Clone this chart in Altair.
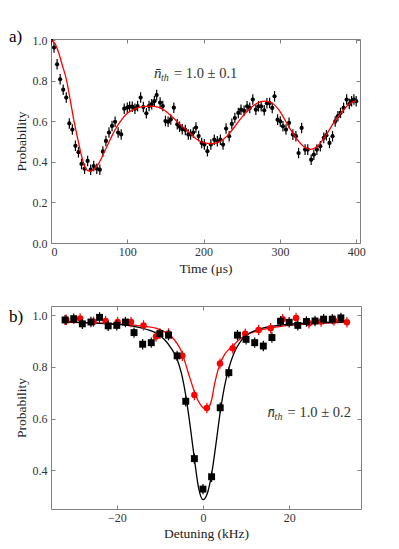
import altair as alt
import pandas as pd

FONT = "Liberation Serif"
FRAME = "#808080"
TXT = "#333333"

# ---------------- panel a : probability vs time ----------------
t_a = [0, 4, 8, 12, 16, 20, 24, 28, 32, 36, 40, 44, 48, 52, 56, 60, 64, 68, 72, 76,
       80, 84, 88, 92, 96, 100, 103, 106.5, 110, 113.5, 117.5, 121, 125, 128.5, 132, 135.5, 138.5, 143, 146.5, 150,
       153.5, 157, 161, 165.5, 168.5, 172, 176, 180, 183, 186.5, 190, 193.5, 197.5, 201, 205, 209.5, 214, 218, 222, 225.5,
       229.5, 233.5, 237, 241, 245.5, 249, 253, 257, 260.5, 264.5, 268.5, 272, 275.5, 279.5, 283, 286.5, 290, 293, 297, 300.5,
       304, 308, 312, 317, 321, 324.5, 328.5, 333, 336.5, 341, 344.5, 348.5, 353, 357.5, 361, 365, 369, 372.5, 376, 379.5,
       383.5, 387.5, 391, 394, 397, 400]
p_a = [1.0, 0.965, 0.882, 0.808, 0.757, 0.718, 0.59, 0.56, 0.48, 0.448, 0.39, 0.367, 0.405, 0.362, 0.38, 0.367, 0.362, 0.452, 0.504, 0.545,
       0.578, 0.598, 0.545, 0.536, 0.663, 0.668, 0.673, 0.673, 0.663, 0.676, 0.718, 0.671, 0.64, 0.676, 0.685, 0.70, 0.73, 0.693, 0.676, 0.602,
       0.598, 0.61, 0.668, 0.586, 0.574, 0.561, 0.558, 0.536, 0.536, 0.545, 0.57, 0.528, 0.494, 0.486, 0.453, 0.486, 0.51, 0.502, 0.51, 0.486,
       0.565, 0.527, 0.588, 0.617, 0.642, 0.658, 0.653, 0.675, 0.667, 0.708, 0.658, 0.675, 0.675, 0.655, 0.69, 0.691, 0.667, 0.724, 0.609, 0.60,
       0.576, 0.56, 0.593, 0.535, 0.527, 0.444, 0.568, 0.461, 0.461, 0.411, 0.436, 0.461, 0.478, 0.519, 0.532, 0.494, 0.527, 0.60, 0.626, 0.642,
       0.667, 0.708, 0.686, 0.70, 0.708, 0.70]
err_a = 0.026

fit_t = [0, 5, 10, 15, 20, 25, 30, 35, 40, 45, 50, 55, 60, 65, 70, 75, 80, 85, 90, 95, 100, 110, 120, 130, 140,
         150, 160, 170, 180, 190, 200, 210, 220, 230, 240, 250, 260, 270, 280, 290, 300, 310, 320, 330, 340,
         350, 360, 370, 380, 390, 400]
fit_p = [1.0, 0.985, 0.94, 0.875, 0.81, 0.71, 0.605, 0.515, 0.43, 0.37, 0.355, 0.36, 0.378, 0.41, 0.45, 0.49, 0.53, 0.565, 0.595, 0.62,
         0.64, 0.662, 0.673, 0.676, 0.671, 0.652, 0.618, 0.583, 0.55, 0.515, 0.495, 0.49, 0.498, 0.525, 0.57, 0.62, 0.66, 0.69, 0.70, 0.69,
         0.65, 0.585, 0.525, 0.48, 0.462, 0.48, 0.53, 0.59, 0.642, 0.683, 0.703]

# ---------------- panel b : probability vs detuning ----------------
det_black = [-32, -30, -28, -26, -24, -22, -20, -18, -16, -14, -12, -10, -8, -6, -4, -2, 0, 2, 4, 6,
             8, 10, 12, 14, 16, 18, 20, 22, 24, 26, 28, 30, 32]
p_black = [0.982, 0.987, 0.967, 0.974, 0.992, 0.959, 0.961, 0.974, 0.933, 0.888, 0.894, 0.929, 0.923, 0.843, 0.667, 0.445, 0.327, 0.375, 0.642, 0.778,
           0.923, 0.907, 0.894, 0.881, 0.914, 0.977, 0.973, 0.961, 0.976, 0.978, 0.985, 0.985, 0.99]
det_red = [-31.7, -28.5, -25.4, -22.6, -19.8, -16.7, -13.8, -10.9, -8.0, -4.8, -2.0, 0.9, 3.95, 6.9, 9.8, 12.9, 15.7,
           18.5, 21.6, 24.6, 27.4, 30.4, 33.4]
p_red = [0.982, 0.988, 0.975, 0.978, 0.974, 0.974, 0.961, 0.918, 0.93, 0.843, 0.691, 0.641, 0.813, 0.872, 0.929, 0.943, 0.95,
         0.985, 0.99, 0.969, 0.976, 0.98, 0.973]
err_b = 0.02

fit_black_x = [-32, -28, -24, -20, -16, -13, -11, -9, -7.5, -6, -5, -4, -3, -2, -1, 0, 1, 2, 3, 4, 5, 6, 7, 8, 9, 10,
               12, 14, 17, 20, 25, 30, 33.4]
fit_black_y = [0.975, 0.972, 0.969, 0.965, 0.957, 0.945, 0.932, 0.907, 0.875, 0.83, 0.775, 0.69, 0.575, 0.445, 0.33, 0.286, 0.31,
               0.385, 0.5, 0.625, 0.725, 0.795, 0.845, 0.88, 0.905, 0.922, 0.94, 0.951, 0.96, 0.966, 0.97, 0.973, 0.975]
fit_red_x = [-31.7, -28, -24, -20, -16, -13, -11, -9, -8, -7, -6, -5, -4, -3, -2, -1, 0, 0.7, 1.5, 2, 2.6, 3, 4, 5, 6, 7, 8,
             10, 13, 16, 20, 25, 30, 33.4]
fit_red_y = [0.973, 0.972, 0.97, 0.967, 0.962, 0.956, 0.95, 0.937, 0.928, 0.912, 0.89, 0.86, 0.81, 0.755, 0.705, 0.665, 0.642, 0.636,
             0.648, 0.672, 0.726, 0.757, 0.813, 0.848, 0.868, 0.882, 0.9, 0.923, 0.941, 0.952, 0.961, 0.967, 0.971, 0.973]


def ax_main(orient, values, title, fmt, lpad, tpad):
    return alt.Axis(orient=orient, values=values, title=title, format=fmt, tickSize=4, offset=-4,
                    domain=False, grid=False, labelPadding=lpad, titlePadding=tpad)


def ax_mirror(orient, values):
    return alt.Axis(orient=orient, values=values, labels=False, title=None, tickSize=4, offset=-4,
                    domain=False, grid=False)


def nbar_label(x, y, value_text):
    df = pd.DataFrame({"x": [x], "y": [y]})
    base = alt.Chart(df)
    n = base.mark_text(text="n\u0304", font=FONT, fontSize=15, fontStyle="italic", align="left",
                       baseline="alphabetic", dx=0, color=TXT)
    th = base.mark_text(text="th", font=FONT, fontSize=10, fontStyle="italic", align="left",
                        baseline="alphabetic", dx=7, dy=3, color=TXT)
    eq = base.mark_text(text=value_text, font=FONT, fontSize=14.5, align="left",
                        baseline="alphabetic", dx=20, color=TXT)
    return [m.encode(x=alt.X("x:Q", axis=None), y=alt.Y("y:Q", axis=None)) for m in (n, th, eq)]


def panel_tag(tag, yoff):
    return alt.Chart(pd.DataFrame({"tag": [tag]})).mark_text(
        font=FONT, fontSize=17, align="left", baseline="alphabetic", color="#000000"
    ).encode(text="tag:N", x=alt.value(-42), y=alt.value(yoff))


# ---- panel a ----
dfa = pd.DataFrame({"t": t_a, "p": p_a})
dfa["lo"] = dfa["p"] - err_a
dfa["hi"] = dfa["p"] + err_a
dfa_fit = pd.DataFrame({"t": fit_t, "p": fit_p})

xa = alt.Scale(domain=[0, 405], nice=False, zero=False)
ya = alt.Scale(domain=[0, 1.007], nice=False, zero=False)

a_err = alt.Chart(dfa).mark_rule(color="black", strokeWidth=1.2, clip=True).encode(
    x=alt.X("t:Q", scale=xa, axis=ax_main("bottom", [0, 100, 200, 300, 400], "Time (\u03bcs)", "d", 3, 4)),
    y=alt.Y("lo:Q", scale=ya, axis=ax_main("left", [0, 0.2, 0.4, 0.6, 0.8, 1.0], "Probability", ".1f", 4, 4)),
    y2="hi:Q",
)
a_pts = alt.Chart(dfa).mark_circle(color="black", size=18, opacity=1, clip=True).encode(
    x=alt.X("t:Q", scale=xa, axis=ax_mirror("top", [0, 100, 200, 300, 400])),
    y=alt.Y("p:Q", scale=ya, axis=ax_mirror("right", [0, 0.2, 0.4, 0.6, 0.8, 1.0])),
)
a_fit = alt.Chart(dfa_fit).mark_line(color="#ff0000", strokeWidth=1.3, interpolate="monotone", clip=True).encode(
    x=alt.X("t:Q", scale=xa, axis=None),
    y=alt.Y("p:Q", scale=ya, axis=None),
)
panel_a = alt.layer(a_err, a_pts, a_fit, *nbar_label(135, 0.815, "= 1.0 \u00b1 0.1"), panel_tag("a)", 3)).resolve_axis(
    x="independent", y="independent"
).properties(width=309, height=204)

# ---- panel b ----
dfk = pd.DataFrame({"d": det_black, "p": p_black})
dfk["lo"] = dfk["p"] - err_b
dfk["hi"] = dfk["p"] + err_b
dfr = pd.DataFrame({"d": det_red, "p": p_red})
dfr["lo"] = dfr["p"] - err_b
dfr["hi"] = dfr["p"] + err_b
dfk_fit = pd.DataFrame({"d": fit_black_x, "p": fit_black_y})
dfr_fit = pd.DataFrame({"d": fit_red_x, "p": fit_red_y})

xb = alt.Scale(domain=[-35.27, 36.67], nice=False, zero=False)
yb = alt.Scale(domain=[0.25, 1.036], nice=False, zero=False)

b_rfit = alt.Chart(dfr_fit).mark_line(color="#ff0000", strokeWidth=1.3, interpolate="monotone").encode(
    x=alt.X("d:Q", scale=xb, axis=None), y=alt.Y("p:Q", scale=yb, axis=None))
b_kfit = alt.Chart(dfk_fit).mark_line(color="black", strokeWidth=1.3, interpolate="monotone").encode(
    x=alt.X("d:Q", scale=xb, axis=None), y=alt.Y("p:Q", scale=yb, axis=None))
b_rerr = alt.Chart(dfr).mark_rule(color="#ff0000", strokeWidth=1.2).encode(
    x=alt.X("d:Q", scale=xb, axis=ax_main("bottom", [-20, 0, 20], "Detuning (kHz)", "d", 3, 3)),
    y=alt.Y("lo:Q", scale=yb, axis=ax_main("left", [0.4, 0.6, 0.8, 1.0], "Probability", ".1f", 4, 4)),
    y2="hi:Q")
b_rpts = alt.Chart(dfr).mark_circle(color="#ff0000", size=42, opacity=1).encode(
    x=alt.X("d:Q", scale=xb, axis=ax_mirror("top", [-20, 0, 20])),
    y=alt.Y("p:Q", scale=yb, axis=ax_mirror("right", [0.4, 0.6, 0.8, 1.0])))
b_kerr = alt.Chart(dfk).mark_rule(color="black", strokeWidth=1.2).encode(
    x=alt.X("d:Q", scale=xb, axis=None), y=alt.Y("lo:Q", scale=yb, axis=None), y2="hi:Q")
b_kpts = alt.Chart(dfk).mark_square(color="black", size=48, opacity=1).encode(
    x=alt.X("d:Q", scale=xb, axis=None), y=alt.Y("p:Q", scale=yb, axis=None))

panel_b = alt.layer(b_rfit, b_kfit, b_rerr, b_rpts, b_kerr, b_kpts,
                    *nbar_label(15, 0.605, "= 1.0 \u00b1 0.2"), panel_tag("b)", 16)).resolve_axis(
    x="independent", y="independent"
).properties(width=310, height=203)

chart = alt.vconcat(panel_a, panel_b, spacing=30).properties(
    padding={"top": 19, "left": 0, "right": 5, "bottom": 5}
).configure_view(stroke=FRAME, strokeWidth=1).configure_axis(
    labelFont=FONT, labelFontSize=12, labelColor=TXT,
    titleFont=FONT, titleFontSize=13.5, titleColor="#222222", titleFontWeight="normal",
    tickColor=FRAME, tickWidth=1,
)

chart.save("out.html", embed_options={"renderer": "svg", "actions": False})
